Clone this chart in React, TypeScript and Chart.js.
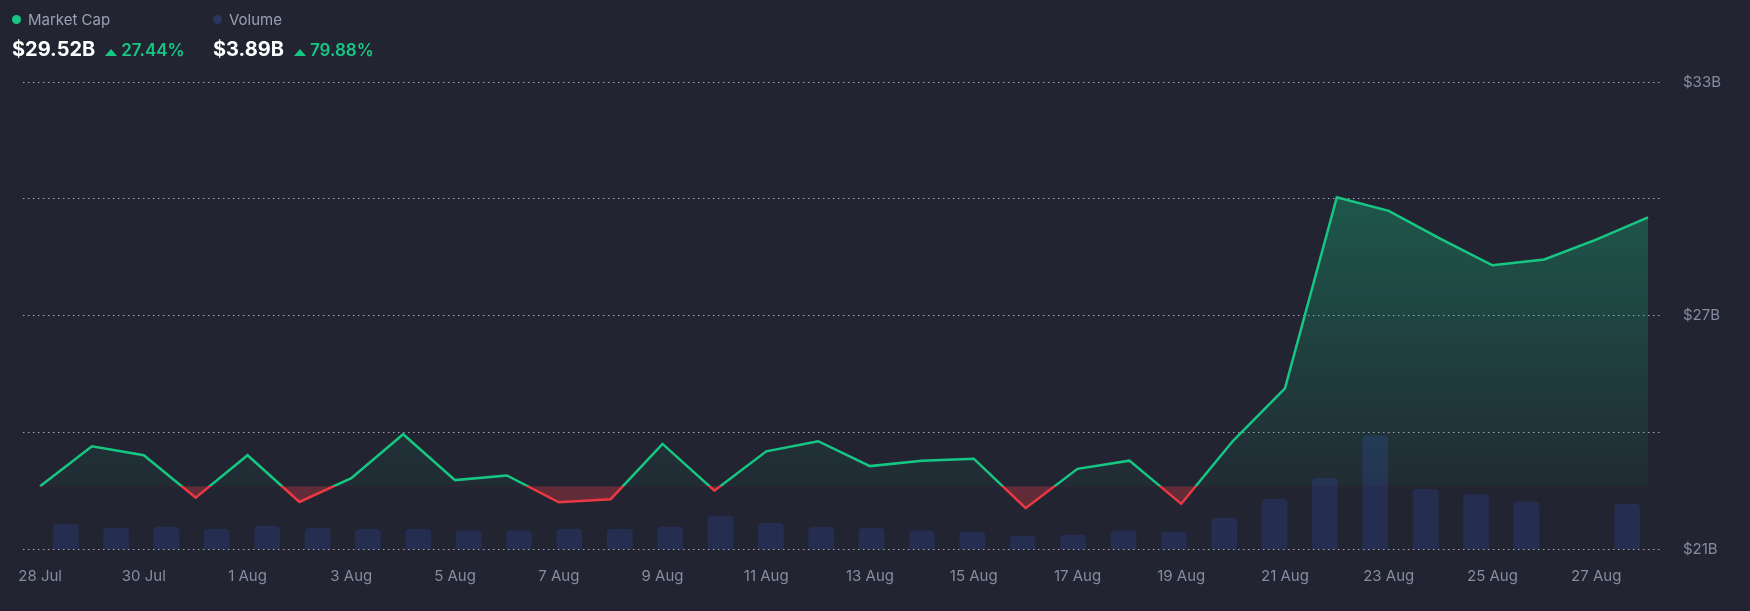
import { useEffect, useRef } from 'react';
import { Chart, registerables } from 'chart.js';

Chart.register(...registerables);

const days = [
  '28 Jul', '29 Jul', '30 Jul', '31 Jul',
  '1 Aug', '2 Aug', '3 Aug', '4 Aug', '5 Aug', '6 Aug', '7 Aug', '8 Aug', '9 Aug', '10 Aug',
  '11 Aug', '12 Aug', '13 Aug', '14 Aug', '15 Aug', '16 Aug', '17 Aug', '18 Aug', '19 Aug', '20 Aug',
  '21 Aug', '22 Aug', '23 Aug', '24 Aug', '25 Aug', '26 Aug', '27 Aug', '28 Aug',
];
const dayLabels = [
  '28 Jul', '30 Jul', '1 Aug', '3 Aug', '5 Aug', '7 Aug', '9 Aug', '11 Aug',
  '13 Aug', '15 Aug', '17 Aug', '19 Aug', '21 Aug', '23 Aug', '25 Aug', '27 Aug',
];
// market cap, billions USD
const marketCap = [
  22.61, 23.64, 23.41, 22.32, 23.41, 22.21, 22.82, 23.95, 22.77, 22.89, 22.2, 22.28, 23.7, 22.5, 23.51, 23.77,
  23.13, 23.27, 23.32, 22.05, 23.06, 23.27, 22.16, 23.78, 25.13, 30.04, 29.69, 28.97, 28.29, 28.44, 28.95, 29.52,
];
// 24h volume, billions USD
const volume = [
  2.15, 1.8, 1.91, 1.71, 2.0, 1.8, 1.71, 1.71, 1.59, 1.57, 1.71, 1.71, 1.91, 2.87, 2.23, 1.89,
  1.8, 1.57, 1.48, 1.13, 1.22, 1.57, 1.48, 2.67, 4.32, 6.15, 9.83, 5.19, 4.72, 4.09, null, 3.89,
];
const capTicks = [21, 24, 27, 30, 33];
const capTickLabels = ['$21B', '', '$27B', '', '$33B'];

const UP = '#16c784';
const DOWN = '#ea3943';
const BG = '#222531';
const MUTED = '#858ca2';

function Stat({ value, change }: { value: string; change: string }) {
  return (
    <div style={{ display: 'flex', alignItems: 'baseline', lineHeight: '24px' }}>
      <span style={{ fontSize: 20, fontWeight: 700, color: '#fff' }}>{value}</span>
      <span
        style={{
          display: 'inline-block',
          width: 0,
          height: 0,
          marginLeft: 10,
          marginRight: 4,
          marginBottom: 4,
          borderLeft: '6px solid transparent',
          borderRight: '6px solid transparent',
          borderBottom: `7px solid ${UP}`,
        }}
      />
      <span style={{ fontSize: 17, fontWeight: 600, color: UP }}>{change}</span>
    </div>
  );
}

function LegendItem({ color, text }: { color: string; text: string }) {
  return (
    <div style={{ display: 'flex', alignItems: 'center', height: 18, fontSize: 15, color: '#9aa0b4' }}>
      <span style={{ width: 9, height: 9, borderRadius: '50%', background: color, marginRight: 7 }} />
      {text}
    </div>
  );
}

export default function App() {
  const canvasRef = useRef<HTMLCanvasElement>(null);

  useEffect(() => {
    if (!canvasRef.current) return;
    const base = marketCap[0];

    // hard colour switch at the starting value
    const split = (chart: any, above: string, below: string) => {
      const { ctx, chartArea, scales } = chart;
      if (!chartArea) return above;
      const yb = scales.y.getPixelForValue(base);
      const t = Math.min(1, Math.max(0, (yb - chartArea.top) / (chartArea.bottom - chartArea.top)));
      const g = ctx.createLinearGradient(0, chartArea.top, 0, chartArea.bottom);
      g.addColorStop(0, above);
      g.addColorStop(t, above);
      g.addColorStop(t, below);
      g.addColorStop(1, below);
      return g;
    };

    const greenFill = (chart: any) => {
      const { ctx, chartArea, scales } = chart;
      if (!chartArea) return 'rgba(22,199,132,0.2)';
      const yb = scales.y.getPixelForValue(base);
      const g = ctx.createLinearGradient(0, chartArea.top, 0, yb);
      g.addColorStop(0, 'rgba(22,199,132,0.42)');
      g.addColorStop(1, 'rgba(22,199,132,0.04)');
      return g;
    };

    Chart.defaults.font.family = 'Inter';

    const chart = new Chart(canvasRef.current, {
      type: 'line',
      data: {
        datasets: [
          {
            type: 'line',
            label: 'Market Cap',
            data: marketCap.map((v, i) => ({ x: i, y: v })),
            xAxisID: 'x',
            yAxisID: 'y',
            order: 0,
            borderWidth: 2.5,
            pointRadius: 0,
            tension: 0,
            borderColor: (c: any) => split(c.chart, UP, DOWN),
            backgroundColor: (c: any) => greenFill(c.chart),
            fill: { target: { value: base }, below: 'rgba(234,57,67,0.32)' },
          } as any,
          {
            type: 'bar',
            label: 'Volume',
            data: volume.map((v, i) => ({ x: i, y: v })),
            xAxisID: 'xb',
            yAxisID: 'yv',
            order: 1,
            backgroundColor: '#252e50',
            barThickness: 25,
            borderRadius: 4,
            borderSkipped: 'start',
          } as any,
        ],
      },
      options: {
        responsive: true,
        maintainAspectRatio: false,
        animation: false,
        layout: { padding: { left: 22, top: 82, right: 0, bottom: 0 } },
        plugins: { legend: { display: false }, tooltip: { enabled: false } },
        scales: {
          x: {
            type: 'linear',
            position: 'bottom',
            offset: false,
            min: -0.33,
            max: 31.23,
            bounds: 'data',
            grid: { display: false, drawTicks: false, offset: false },
            border: { display: false },
            afterBuildTicks: (axis: any) => {
              axis.ticks = dayLabels.map((d) => ({ value: days.indexOf(d) }));
            },
            afterFit: (axis: any) => {
              axis.height = 62;
            },
            ticks: {
              autoSkip: false,
              maxRotation: 0,
              padding: 18,
              color: MUTED,
              font: { size: 15 },
              callback: (v: any) => days[v] ?? '',
            },
          },
          xb: {
            type: 'linear',
            display: false,
            offset: false,
            grid: { offset: false },
            min: -0.6,
            max: 31.9,
            bounds: 'data',
          },
          y: {
            type: 'linear',
            position: 'right',
            min: 21,
            max: 33,
            grid: { color: 'rgba(205,210,225,0.75)', lineWidth: 1, drawTicks: false },
            border: { display: false, dash: [1.5, 3.5] },
            afterBuildTicks: (axis: any) => {
              axis.ticks = capTicks.map((v) => ({ value: v }));
            },
            afterFit: (axis: any) => {
              axis.width = 90;
            },
            ticks: {
              padding: 23,
              color: MUTED,
              font: { size: 15 },
              callback: (v: any) => capTickLabels[capTicks.indexOf(v)] ?? '',
            },
          },
          yv: {
            type: 'linear',
            display: false,
            min: 0,
            max: 40.6,
          },
        },
      },
    });

    return () => chart.destroy();
  }, []);

  return (
    <div
      style={{
        position: 'fixed',
        left: 0,
        top: 0,
        width: 1750,
        height: 611,
        background: BG,
        overflow: 'hidden',
        fontFamily: 'Inter, sans-serif',
      }}
    >
      <div style={{ position: 'absolute', left: 0, top: 0, width: 1750, height: 611 }}>
        <canvas ref={canvasRef} />
      </div>
      <div style={{ position: 'absolute', left: 12, top: 10 }}>
        <LegendItem color={UP} text="Market Cap" />
      </div>
      <div style={{ position: 'absolute', left: 213, top: 10 }}>
        <LegendItem color="#2a3560" text="Volume" />
      </div>
      <div style={{ position: 'absolute', left: 12, top: 37 }}>
        <Stat value="$29.52B" change="27.44%" />
      </div>
      <div style={{ position: 'absolute', left: 213, top: 37 }}>
        <Stat value="$3.89B" change="79.88%" />
      </div>
    </div>
  );
}
